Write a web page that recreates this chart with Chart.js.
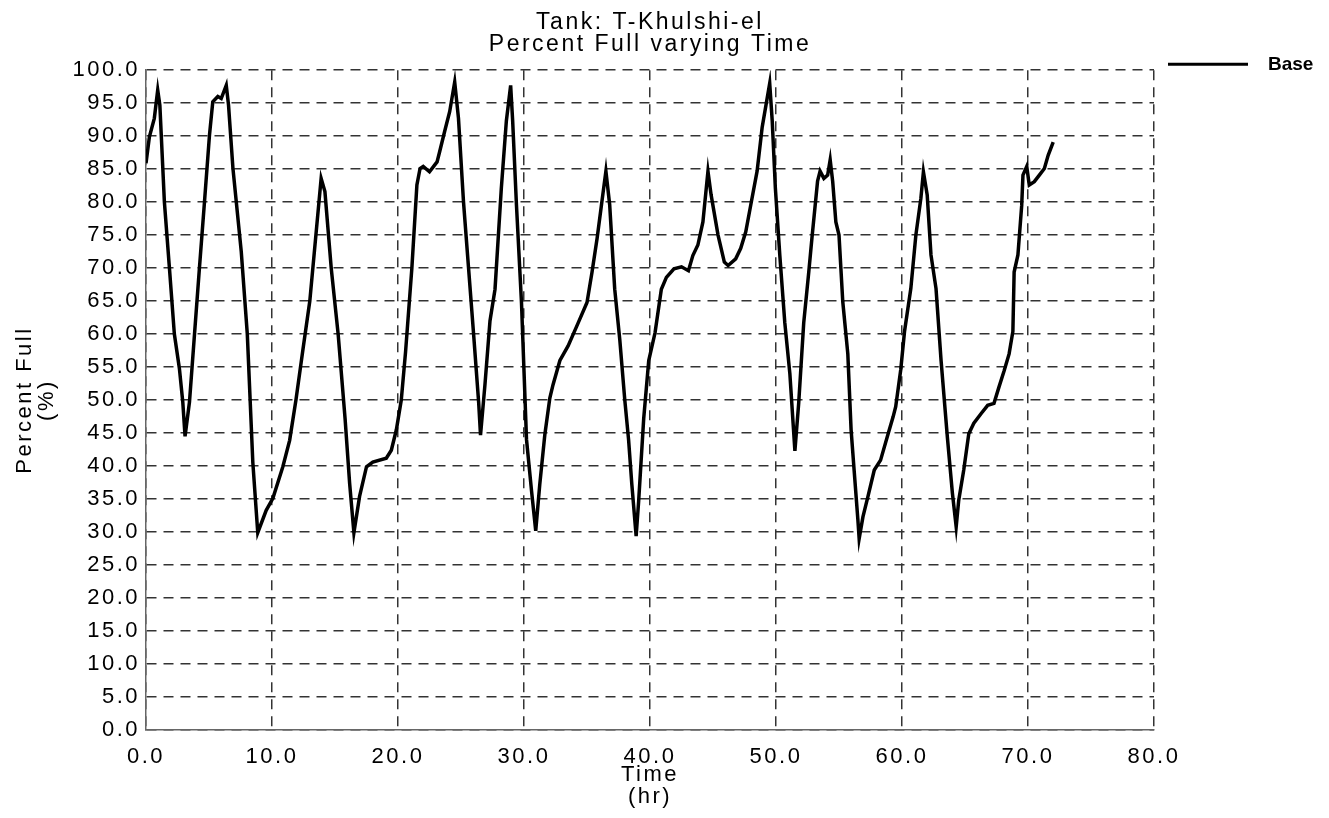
<!DOCTYPE html>
<html><head><meta charset="utf-8">
<script src="https://cdn.jsdelivr.net/npm/chart.js@4.4.1/dist/chart.umd.min.js"></script>
<style>html,body{margin:0;padding:0;background:#fff;}canvas{display:block;}</style>
</head><body>
<canvas id="c" width="1329" height="818"></canvas>
<script>
const chartTitle = ['Tank: T-Khulshi-el', 'Percent Full varying Time'];
const seriesName = 'Base';
const xAxisTitle = ['Time', '(hr)'];
const yAxisTitle = ['Percent Full', '(%)'];
const xTickValues = [0, 10, 20, 30, 40, 50, 60, 70, 80];
const yTickValues = [0, 5, 10, 15, 20, 25, 30, 35, 40, 45, 50, 55, 60, 65, 70, 75, 80, 85, 90, 95, 100];

const timeHr = [
  0.0, 0.27, 0.66, 0.93, 1.1, 1.46, 1.86, 2.25, 2.65, 2.92, 3.1, 3.45, 3.85, 4.24, 4.64, 5.04, 5.3, 5.7, 5.97, 6.37,
  6.55, 6.9, 7.56, 8.04, 8.48, 8.87, 9.54, 10.07, 10.86, 11.4, 11.9, 12.45, 13.0, 13.9, 14.2, 14.7, 15.25, 15.8, 16.16, 16.5,
  16.95, 17.5, 18.0, 19.07, 19.47, 19.87, 20.26, 20.6, 21.1, 21.5, 21.75, 22.0, 22.5, 23.1, 23.3, 23.7, 24.1, 24.5, 24.8, 25.2,
  25.6, 26.0, 26.4, 26.55, 26.9, 27.3, 27.7, 28.2, 28.6, 28.94, 29.1, 29.4, 29.8, 30.2, 30.6, 30.93, 31.25, 31.65, 32.05, 32.3,
  32.85, 33.5, 34.3, 35.0, 35.4, 35.8, 36.15, 36.5, 36.8, 37.2, 37.6, 38.0, 38.3, 38.56, 38.9, 39.1, 39.5, 39.9, 40.4, 40.9,
  41.3, 41.9, 42.5, 43.05, 43.4, 43.8, 44.2, 44.6, 44.85, 45.4, 45.9, 46.2, 46.8, 47.2, 47.6, 48.0, 48.5, 48.9, 49.5, 49.7,
  49.95, 50.3, 50.7, 51.1, 51.5, 51.8, 52.2, 52.6, 52.85, 53.3, 53.5, 53.8, 54.1, 54.3, 54.5, 54.75, 55.0, 55.3, 55.7, 55.96,
  56.2, 56.5, 56.6, 56.9, 57.3, 57.8, 58.3, 58.9, 59.3, 59.5, 59.9, 60.2, 60.7, 61.1, 61.5, 61.7, 62.0, 62.3, 62.7, 63.1,
  63.6, 64.0, 64.3, 64.5, 64.9, 65.3, 65.7, 66.3, 66.8, 67.3, 67.7, 68.1, 68.5, 68.8, 68.9, 69.2, 69.5, 69.6, 69.9, 70.1,
  70.5, 70.9, 71.3, 71.6, 72.0
];
const percentFull = [
  85.9, 89.9, 92.7, 97.0, 94.7, 80.0, 70.0, 60.0, 54.8, 49.7, 44.5, 49.7, 60.0, 70.0, 80.0, 90.2, 95.2, 96.0, 95.7, 97.7,
  94.7, 85.1, 72.5, 60.0, 40.5, 29.9, 33.3, 35.1, 39.9, 43.9, 50.0, 57.6, 65.0, 83.6, 81.6, 70.0, 60.0, 47.2, 37.4, 29.9,
  35.4, 39.9, 40.6, 41.2, 42.4, 45.5, 50.0, 57.3, 70.0, 82.6, 85.1, 85.4, 84.6, 86.1, 87.6, 90.7, 93.7, 98.2, 92.7, 80.0,
  70.0, 60.0, 49.7, 44.7, 52.3, 62.0, 66.8, 82.1, 92.3, 97.7, 92.3, 79.6, 64.8, 44.0, 36.2, 30.2, 37.2, 44.7, 50.3, 52.3,
  56.0, 58.2, 61.7, 64.8, 69.4, 74.5, 79.6, 84.7, 79.6, 66.8, 59.2, 50.0, 44.0, 37.2, 29.4, 34.7, 47.2, 56.0, 60.2, 66.8,
  68.6, 69.9, 70.2, 69.6, 71.9, 73.5, 77.0, 84.7, 81.1, 75.0, 70.9, 70.4, 71.4, 73.0, 75.5, 79.6, 84.7, 91.3, 98.0, 92.3,
  82.1, 72.0, 61.7, 54.0, 42.3, 49.5, 61.7, 69.4, 74.5, 83.2, 84.7, 83.6, 84.1, 86.4, 83.1, 77.0, 75.0, 64.9, 57.0, 45.5,
  39.4, 31.8, 29.0, 32.3, 35.4, 39.4, 40.9, 44.9, 47.5, 49.0, 54.6, 60.4, 66.9, 75.0, 80.6, 84.6, 81.1, 72.0, 66.9, 56.0,
  44.4, 35.9, 30.8, 34.8, 39.4, 44.9, 46.5, 48.0, 49.2, 49.5, 52.0, 54.4, 57.0, 60.4, 69.4, 72.0, 79.5, 84.1, 85.4, 82.6,
  83.1, 84.1, 85.1, 87.1, 89.1
];

const points = timeHr.map((t, i) => ({ x: t, y: percentFull[i] }));

const SPACING = '2.5px';
const spacingPlugin = {
  id: 'spacing',
  beforeUpdate(c) { c.ctx.letterSpacing = SPACING; },
  beforeLayout(c) { c.ctx.letterSpacing = SPACING; },
  beforeDraw(c) { c.ctx.letterSpacing = SPACING; }
};

const legendPlugin = {
  id: 'sideLegend',
  afterDraw(c) {
    const ctx = c.ctx, a = c.chartArea;
    const y = a.top - 6;
    ctx.save();
    ctx.letterSpacing = '0px';
    ctx.strokeStyle = '#000';
    ctx.lineWidth = 3;
    ctx.beginPath();
    ctx.moveTo(a.right + 14, y);
    ctx.lineTo(a.right + 94, y);
    ctx.stroke();
    ctx.fillStyle = '#000';
    ctx.font = 'bold 19px "Liberation Sans", Arial, sans-serif';
    ctx.textBaseline = 'middle';
    ctx.textAlign = 'left';
    ctx.fillText(seriesName, a.right + 114, y + 1);
    ctx.restore();
  }
};

const FONT = '"Liberation Sans", Arial, sans-serif';
const gridOpts = { color: '#333', lineWidth: 1.5, drawTicks: false };
const borderOpts = { display: true, color: '#666', width: 1.5, dash: [10, 7] };

new Chart(document.getElementById('c'), {
  type: 'line',
  data: {
    datasets: [{
      label: seriesName,
      data: points,
      borderColor: '#000',
      backgroundColor: '#000',
      borderWidth: 3.5,
      pointRadius: 0,
      tension: 0,
      fill: false
    }]
  },
  options: {
    responsive: false,
    animation: false,
    events: [],
    layout: { padding: { top: 0, right: 29, bottom: 0, left: 0 } },
    plugins: {
      legend: { display: false },
      tooltip: { enabled: false },
      title: {
        display: true,
        text: chartTitle,
        color: '#000',
        font: { family: FONT, size: 23, weight: 'normal', lineHeight: 0.96 },
        padding: { top: 12, bottom: 14 }
      }
    },
    scales: {
      x: {
        type: 'linear',
        min: 0, max: 80,
        afterBuildTicks(s) { s.ticks = xTickValues.map(v => ({ value: v })); },
        afterFit(s) { s.height = 88; },
        grid: gridOpts,
        border: borderOpts,
        ticks: {
          color: '#000',
          padding: 14,
          maxRotation: 0,
          autoSkip: false,
          font: { family: FONT, size: 22 },
          callback: v => Number(v).toFixed(1)
        },
        title: {
          display: true,
          text: xAxisTitle,
          color: '#000',
          font: { family: FONT, size: 22, lineHeight: 1.0 },
          padding: { top: 0, bottom: 10 }
        }
      },
      y: {
        type: 'linear',
        min: 0, max: 100,
        afterBuildTicks(s) { s.ticks = yTickValues.map(v => ({ value: v })); },
        afterFit(s) { s.width = 146; },
        grid: gridOpts,
        border: borderOpts,
        ticks: {
          color: '#000',
          padding: 6,
          autoSkip: false,
          font: { family: FONT, size: 22 },
          callback: v => Number(v).toFixed(1)
        },
        title: {
          display: true,
          text: yAxisTitle,
          color: '#000',
          font: { family: FONT, size: 22, lineHeight: 1.0 },
          padding: { top: 14, bottom: 0 }
        }
      },
      yRightSpace: {
        type: 'linear',
        position: 'right',
        display: true,
        min: 0, max: 100,
        afterFit(s) { s.width = 146; },
        grid: { display: false, drawOnChartArea: false, drawTicks: false },
        border: { display: false },
        ticks: { display: false }
      }
    }
  },
  plugins: [spacingPlugin, legendPlugin]
});
</script>
</body></html>
